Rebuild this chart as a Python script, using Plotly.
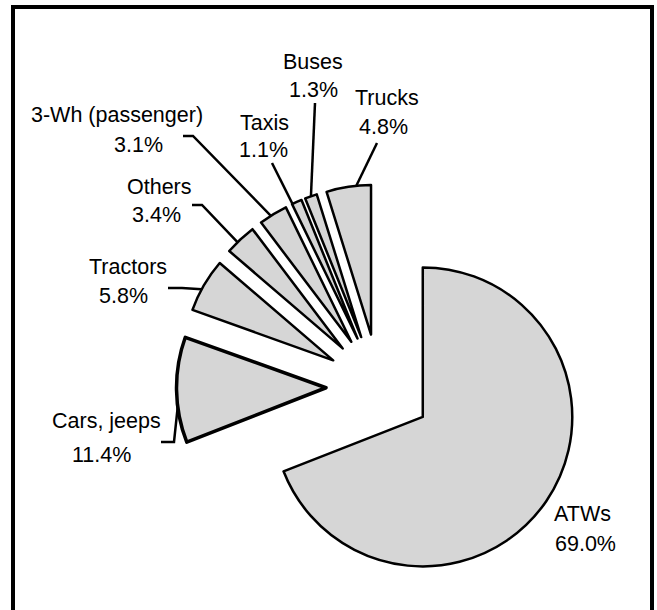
import math
import plotly.graph_objects as go

# ---- data ----
categories = ["ATWs", "Cars, jeeps", "Tractors", "Others", "3-Wh (passenger)", "Taxis", "Buses", "Trucks"]
shares = [69.0, 11.4, 5.8, 3.4, 3.1, 1.1, 1.3, 4.8]
share_labels = ["69.0%", "11.4%", "5.8%", "3.4%", "3.1%", "1.1%", "1.3%", "4.8%"]

# ---- layout / style ----
W, H = 657, 610
CX, CY, R, PULL_PX = 379.0, 387.0, 149.5, 53.0
PULL = PULL_PX / R
BOX = 2 * R * (1 + PULL)
FILL = "#d6d6d6"
FONT = "Liberation Sans, Arial, sans-serif"
FS = 21.5
LINE_W = [2.5, 3.5, 2.5, 2.5, 2.5, 2.5, 2.5, 2.5]

def px(x):
    return x / W

def py(y):
    return 1 - y / H

# label placement (pixel centers): name line, value line
label_pos = {
    "ATWs": ((582, 514), (585, 544)),
    "Cars, jeeps": ((106, 421), (101, 455)),
    "Tractors": ((128, 267), (123, 296)),
    "Others": ((159, 187), (156, 215)),
    "3-Wh (passenger)": ((117, 115), (138, 145)),
    "Taxis": ((264, 123), (263, 150)),
    "Buses": ((313, 62), (313, 90)),
    "Trucks": ((387, 98), (383, 127)),
}
# leader line: start points (and elbows), angle offset from slice mid (deg)
leader = {
    "Cars, jeeps": ([(161, 442), (174, 442)], 6.5),
    "Tractors": ([(168, 288), (182, 288)], 1.8),
    "Others": ([(192, 205), (202, 205)], 1.5),
    "3-Wh (passenger)": ([(183, 136), (193, 136)], 1.0),
    "Taxis": ([(272, 163)], 1.8),
    "Buses": ([(315, 103)], 0.0),
    "Trucks": ([(377, 143)], -3.0),
}

total = sum(shares)
fig = go.Figure(go.Pie(
    labels=categories,
    values=shares,
    sort=False,
    direction="clockwise",
    rotation=0,
    pull=[PULL] * len(shares),
    textinfo="none",
    hoverinfo="label+percent",
    showlegend=False,
    marker=dict(colors=[FILL] * len(shares), line=dict(color="black", width=LINE_W)),
    domain=dict(x=[px(CX - BOX / 2), px(CX + BOX / 2)],
                y=[py(CY + BOX / 2), py(CY - BOX / 2)]),
))

shapes = []
annotations = []
cum = 0.0
for name, val, lab in zip(categories, shares, share_labels):
    f0 = cum / total
    cum += val
    f1 = cum / total
    a_mid = 90 - 360 * (f0 + f1) / 2
    (nx, ny), (vx, vy) = label_pos[name]
    annotations.append(dict(x=px(nx), y=py(ny), xref="paper", yref="paper", text=name,
                            showarrow=False, xanchor="center", yanchor="middle",
                            font=dict(family=FONT, size=FS, color="black")))
    annotations.append(dict(x=px(vx), y=py(vy), xref="paper", yref="paper", text=lab,
                            showarrow=False, xanchor="center", yanchor="middle",
                            font=dict(family=FONT, size=FS, color="black")))
    if name in leader:
        pts, off = leader[name]
        ax = CX + PULL_PX * math.cos(math.radians(a_mid))
        ay = CY - PULL_PX * math.sin(math.radians(a_mid))
        ang = math.radians(a_mid + off)
        ex = ax + R * math.cos(ang)
        ey = ay - R * math.sin(ang)
        allpts = list(pts) + [(ex, ey)]
        path = "M " + " L ".join(f"{px(x):.5f},{py(y):.5f}" for x, y in allpts)
        shapes.append(dict(type="path", path=path, xref="paper", yref="paper",
                           line=dict(color="black", width=2.5)))

# outer frame
shapes.append(dict(type="rect", xref="paper", yref="paper",
                   x0=px(13), x1=px(652), y0=py(640), y1=py(7),
                   line=dict(color="black", width=4)))

fig.update_layout(
    width=W, height=H,
    margin=dict(l=0, r=0, t=0, b=0),
    paper_bgcolor="white",
    plot_bgcolor="white",
    shapes=shapes,
    annotations=annotations,
)

fig.write_html(
    "out.html",
    config={"displayModeBar": False},
    post_script="document.body.style.margin='0';document.body.style.overflow='hidden';",
)
